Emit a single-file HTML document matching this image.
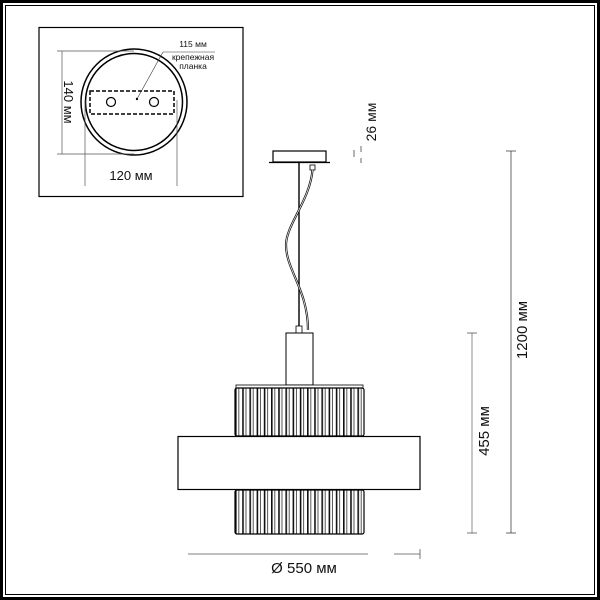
<!DOCTYPE html>
<html><head><meta charset="utf-8"><style>
html,body{margin:0;padding:0;background:#fff}
svg{display:block}
text{font-family:"Liberation Sans",sans-serif;fill:#111}
</style></head><body>
<svg width="600" height="600" viewBox="0 0 600 600" xmlns="http://www.w3.org/2000/svg">
<defs>
<pattern id="cr" x="235" y="0" width="7.2" height="600" patternUnits="userSpaceOnUse">
<rect x="0" y="0" width="7.2" height="600" fill="#fff"/>
<line x1="0.8" y1="0" x2="0.8" y2="600" stroke="#111" stroke-width="1.6"/>
<line x1="3.8" y1="0" x2="3.8" y2="600" stroke="#444" stroke-width="0.9"/>
</pattern>
</defs>
<rect x="1.5" y="1.5" width="597" height="597" fill="none" stroke="#000" stroke-width="3"/>
<rect x="5.5" y="5.5" width="589" height="589" fill="none" stroke="#000" stroke-width="1"/>
<rect x="39" y="27.5" width="204" height="169" fill="none" stroke="#000" stroke-width="1.2"/>
<circle cx="134" cy="102" r="53" fill="none" stroke="#000" stroke-width="1.5"/>
<circle cx="134" cy="102" r="48.5" fill="none" stroke="#000" stroke-width="1.5"/>
<rect x="90" y="91" width="84" height="23" fill="none" stroke="#000" stroke-width="1.5" stroke-dasharray="4,2"/>
<circle cx="111" cy="102" r="4.5" fill="none" stroke="#000" stroke-width="1.2"/>
<circle cx="154" cy="102" r="4.5" fill="none" stroke="#000" stroke-width="1.2"/>
<circle cx="137" cy="99" r="1.2" fill="#000"/>
<polyline points="137,99 163,52 215,52" fill="none" stroke="#333" stroke-width="0.6"/>
<line x1="62" y1="51" x2="62" y2="154" stroke="#555" stroke-width="0.7"/>
<line x1="57" y1="51" x2="134" y2="51" stroke="#555" stroke-width="0.7"/>
<line x1="57" y1="154" x2="134" y2="154" stroke="#555" stroke-width="0.7"/>
<line x1="85" y1="100" x2="85" y2="186" stroke="#555" stroke-width="0.7"/>
<line x1="177" y1="100" x2="177" y2="186" stroke="#555" stroke-width="0.7"/>
<text x="68" y="102" font-size="13" text-anchor="middle" transform="rotate(90 68 102)" dy="4">140 мм</text>
<text x="131" y="180" font-size="13" text-anchor="middle">120 мм</text>
<text x="193" y="47" font-size="8.5" text-anchor="middle">115 мм</text>
<text x="193" y="60" font-size="8.5" text-anchor="middle">крепежная</text>
<text x="193" y="69" font-size="8.5" text-anchor="middle">планка</text>
<rect x="273" y="151" width="53" height="11" fill="#fff" stroke="#000" stroke-width="1.2"/>
<line x1="269" y1="162.5" x2="330" y2="162.5" stroke="#000" stroke-width="1.2"/>
<line x1="299" y1="163" x2="299" y2="330" stroke="#000" stroke-width="1.4"/>
<rect x="310" y="165" width="5" height="5" fill="none" stroke="#000" stroke-width="0.8"/>
<path d="M312.5,170 C310,200 286,225 286,245 C286,270 308,290 308,330" fill="none" stroke="#111" stroke-width="2.2"/>
<path d="M312.5,170 C310,200 286,225 286,245 C286,270 308,290 308,330" fill="none" stroke="#fff" stroke-width="0.7"/>
<rect x="296" y="326" width="6" height="7" fill="#fff" stroke="#000" stroke-width="0.8"/>
<rect x="286" y="333" width="27" height="52" fill="#fff" stroke="#000" stroke-width="1"/>
<rect x="236" y="385" width="127" height="3" fill="#fff" stroke="#000" stroke-width="0.8"/>
<rect x="235" y="388" width="129" height="48" fill="url(#cr)" stroke="#000" stroke-width="1.2" rx="2"/>
<rect x="235" y="490" width="129" height="44" fill="url(#cr)" stroke="#000" stroke-width="1.2" rx="2"/>
<rect x="178" y="436.5" width="242" height="53" fill="#fff" stroke="#000" stroke-width="1.2"/>
<line x1="188" y1="554" x2="368" y2="554" stroke="#555" stroke-width="0.8"/>
<line x1="394" y1="554" x2="420" y2="554" stroke="#555" stroke-width="0.8"/>
<line x1="420" y1="549" x2="420" y2="559" stroke="#555" stroke-width="0.8"/>
<text x="304" y="573" font-size="15" text-anchor="middle">Ø 550 мм</text>
<line x1="511" y1="151" x2="511" y2="533" stroke="#444" stroke-width="0.8"/>
<line x1="506" y1="151" x2="516" y2="151" stroke="#444" stroke-width="0.8"/>
<line x1="506" y1="533" x2="516" y2="533" stroke="#444" stroke-width="0.8"/>
<line x1="472" y1="333" x2="472" y2="533" stroke="#777" stroke-width="0.8"/>
<line x1="467" y1="333" x2="477" y2="333" stroke="#555" stroke-width="0.8"/>
<line x1="467" y1="533" x2="477" y2="533" stroke="#555" stroke-width="0.8"/>
<text x="0" y="0" font-size="15" text-anchor="middle" transform="translate(527 330) rotate(-90)">1200 мм</text>
<text x="0" y="0" font-size="15" text-anchor="middle" transform="translate(489 431) rotate(-90)">455 мм</text>
<text x="0" y="0" font-size="14" text-anchor="middle" transform="translate(376 122) rotate(-90)">26 мм</text>
<line x1="354" y1="150" x2="354" y2="157" stroke="#444" stroke-width="0.8"/>
<line x1="361" y1="146" x2="361" y2="152" stroke="#444" stroke-width="0.8"/>
<line x1="361" y1="158" x2="361" y2="163" stroke="#444" stroke-width="0.8"/>
</svg>
</body></html>
